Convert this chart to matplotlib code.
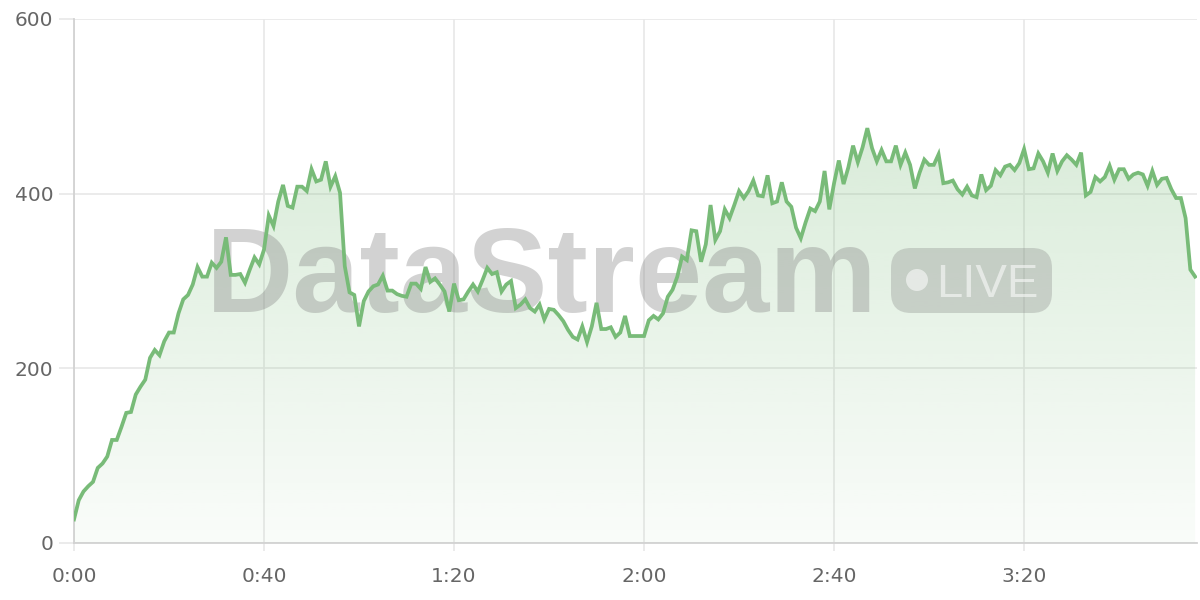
import numpy as np
import matplotlib
matplotlib.use("Agg")
import matplotlib.pyplot as plt
from matplotlib.patches import FancyBboxPatch, Circle

# viewers per second
viewers = [27, 49, 59, 65, 70, 86, 91, 99, 118, 118,
           133, 149, 150, 170, 179, 187, 212, 221, 215, 231,
           241, 241, 263, 279, 284, 296, 316, 305, 305, 321,
           315, 322, 350, 307, 307, 308, 298, 313, 327, 319,
           336, 375, 363, 391, 410, 386, 384, 408, 408, 403,
           428, 414, 416, 437, 408, 420, 401, 317, 287, 284,
           248, 277, 288, 294, 296, 306, 289, 289, 285, 283,
           282, 297, 297, 291, 316, 299, 303, 296, 288, 265,
           297, 278, 279, 288, 296, 288, 301, 315, 308, 310,
           288, 296, 300, 269, 273, 279, 269, 265, 273, 256,
           268, 267, 261, 254, 244, 236, 233, 248, 230, 248,
           275, 245, 245, 247, 236, 241, 260, 237, 237, 237,
           237, 255, 260, 256, 263, 282, 290, 305, 328, 324,
           358, 357, 322, 342, 387, 347, 357, 382, 372, 387,
           403, 395, 403, 415, 398, 397, 421, 389, 391, 413,
           391, 385, 361, 349, 367, 383, 380, 391, 426, 382,
           412, 438, 411, 430, 455, 436, 453, 475, 452, 437,
           450, 437, 437, 455, 433, 447, 433, 406, 424, 439,
           433, 433, 445, 412, 413, 415, 405, 399, 408, 398,
           396, 422, 404, 409, 427, 421, 431, 433, 427, 435,
           451, 428, 429, 446, 437, 424, 446, 426, 437, 444,
           439, 433, 447, 398, 402, 419, 414, 419, 432, 416,
           428, 428, 417, 422, 424, 422, 409, 426, 410, 417,
           418, 405, 395, 395, 372, 313, 305]
seconds = np.arange(len(viewers))

xticks = [0, 40, 80, 120, 160, 200]
xtick_labels = ["0:00", "0:40", "1:20", "2:00", "2:40", "3:20"]
yticks = [0, 200, 400, 600]

green = "#78bb78"
grid_c = "#e8e8e8"
spine_c = "#d2d2d2"

fig = plt.figure(figsize=(12, 6), dpi=100)
ax = fig.add_axes([74 / 1200, 1 - 543 / 600, 1123 / 1200, 524 / 600])

# gradient fill under the line
y = np.array(viewers, dtype=float)
poly = ax.fill_between(seconds, y, 0, color="none", lw=0)
ymax = y.max()
n = 256
alpha = np.linspace(0.04, 0.28, n)
rgba = np.zeros((n, 1, 4))
rgba[:, 0, :3] = matplotlib.colors.to_rgb(green)
rgba[:, 0, 3] = alpha
img = ax.imshow(rgba, extent=[0, seconds[-1], 0, ymax], origin="lower",
                aspect="auto", zorder=1, interpolation="bilinear")
img.set_clip_path(poly.get_paths()[0], transform=ax.transData)

ax.plot(seconds, y, color=green, lw=2.7, zorder=3, solid_joinstyle="miter")

# watermark
tr = fig.dpi_scale_trans
ax.text(5.42, 6 - 3.12, "DataStream", transform=tr, ha="center", va="baseline",
        fontsize=87, fontweight="bold", family="Liberation Sans",
        color="#808080", alpha=0.35, zorder=2, clip_on=False)
badge = FancyBboxPatch((8.91, 6 - 3.13), 1.61, 0.65, transform=tr,
                       boxstyle="round,pad=0,rounding_size=0.2",
                       fc="#808080", ec="none", alpha=0.3, zorder=2, clip_on=False)
ax.add_patch(badge)
ax.add_patch(Circle((9.17, 6 - 2.80), 0.11, transform=tr, fc="white",
                    ec="none", alpha=0.55, zorder=2.1, clip_on=False))
ax.text(9.36, 6 - 2.97, "LIVE", transform=tr, ha="left", va="baseline",
        fontsize=34, family="Liberation Sans", color="white", alpha=0.55,
        zorder=2.1, clip_on=False)

ax.set_xlim(0, 236.4)
ax.set_ylim(0, 600)
ax.set_xticks(xticks)
ax.set_xticklabels(xtick_labels)
ax.set_yticks(yticks)

ax.grid(True, color=grid_c, lw=1.2, zorder=0)
ax.set_axisbelow(True)
for s in ["top", "right"]:
    ax.spines[s].set_visible(False)
for s in ["left", "bottom"]:
    ax.spines[s].set_color(spine_c)
    ax.spines[s].set_linewidth(1.3)

ax.tick_params(axis="y", length=11, width=1.2, color=grid_c, pad=4,
               labelsize=14.5, labelcolor="#666666")
ax.tick_params(axis="x", length=6, width=1.2, color=grid_c, pad=11,
               labelsize=14.5, labelcolor="#666666")
for lab in ax.get_xticklabels() + ax.get_yticklabels():
    lab.set_family("DejaVu Sans")

fig.savefig("out.png", dpi=100)
